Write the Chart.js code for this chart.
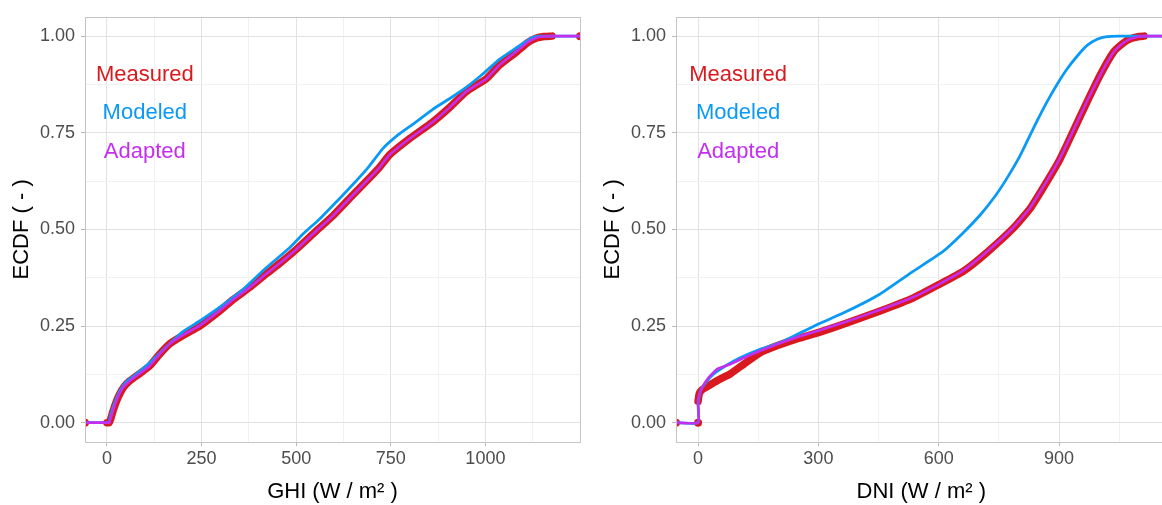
<!DOCTYPE html>
<html>
<head>
<meta charset="utf-8">
<script src="https://cdn.jsdelivr.net/npm/chart.js@4"></script>
<style>
html, body { margin: 0; padding: 0; background: #fff; overflow: hidden; width: 1162px; height: 505px; }
#ghi { position: absolute; left: 0; top: 0; }
#dni { position: absolute; left: 591px; top: 0; }
</style>
</head>
<body>
<canvas id="ghi" width="590" height="505"></canvas>
<canvas id="dni" width="580" height="505"></canvas>
<script>
// axis limits (ecdf pads at -Inf / Inf sit on these)
const ghiMin = -58, ghiMax = 1250
const dniMin = -55, dniMax = 1168

const ghiTicks = [0, 125, 250, 375, 500, 625, 750, 875, 1000, 1125]
const ghiLabels = [0, 250, 500, 750, 1000]
const dniTicks = [0, 150, 300, 450, 600, 750, 900, 1050]
const dniLabels = [0, 300, 600, 900]
const yTicks = [0, 0.125, 0.25, 0.375, 0.5, 0.625, 0.75, 0.875, 1]
const yLabels = [0, 0.25, 0.5, 0.75, 1]

const noteText = ['Measured', 'Modeled', 'Adapted']

// GHI, [x, ECDF]
const ghiMeasured = [[0,0],[6,0],[10,0.01],[16,0.03],[25,0.055],[34,0.075],[45,0.093],[60,0.108],[85,0.126],[113,0.147],[140,0.178],[166,0.204],[205,0.228],[245,0.25],[290,0.283],[333,0.318],[380,0.352],[421,0.385],[460,0.415],[500,0.448],[552,0.495],[597,0.535],[641,0.58],[685,0.624],[720,0.66],[747,0.693],[800,0.735],[861,0.778],[905,0.815],[949,0.856],[1003,0.89],[1037,0.925],[1082,0.959],[1110,0.982],[1135,0.995],[1155,0.999],[1176,1]]
const ghiModeled = [[0,0],[5,0],[10,0.02],[20,0.05],[34,0.082],[50,0.105],[70,0.12],[113,0.155],[150,0.19],[200,0.235],[245,0.263],[300,0.3],[360,0.345],[420,0.4],[482,0.452],[520,0.49],[560,0.525],[600,0.565],[641,0.607],[690,0.66],[729,0.709],[770,0.745],[817,0.778],[860,0.81],[905,0.838],[950,0.868],[993,0.902],[1037,0.94],[1082,0.97],[1110,0.988],[1125,0.997],[1145,1]]
const ghiAdapted = [[0,0],[6,0],[10,0.012],[16,0.032],[25,0.057],[34,0.077],[45,0.094],[60,0.108],[85,0.126],[113,0.147],[140,0.178],[166,0.204],[205,0.229],[245,0.251],[290,0.284],[333,0.318],[380,0.352],[421,0.385],[460,0.415],[500,0.448],[552,0.495],[597,0.535],[641,0.58],[685,0.624],[720,0.66],[747,0.693],[800,0.735],[861,0.778],[905,0.815],[949,0.856],[1003,0.89],[1037,0.925],[1082,0.96],[1110,0.983],[1135,0.996],[1155,0.999],[1176,1]]

// DNI, [x, ECDF]
const dniMeasured = [[0,0.055],[3,0.075],[10,0.085],[22,0.093],[50,0.11],[80,0.126],[115,0.152],[155,0.181],[200,0.2],[250,0.218],[300,0.233],[371,0.258],[454,0.289],[537,0.323],[600,0.357],[662,0.392],[720,0.44],[786,0.503],[828,0.554],[870,0.624],[903,0.683],[935,0.753],[970,0.83],[1003,0.9],[1036,0.959],[1060,0.982],[1078,0.993],[1100,0.999],[1112,1]]
const dniModeled = [[0,0],[0,0.05],[6,0.082],[20,0.105],[39,0.126],[70,0.148],[105,0.168],[150,0.188],[205,0.207],[250,0.23],[300,0.255],[371,0.288],[454,0.333],[537,0.392],[611,0.443],[660,0.49],[704,0.538],[740,0.585],[770,0.632],[800,0.685],[820,0.727],[845,0.78],[870,0.83],[895,0.875],[920,0.915],[945,0.948],[970,0.976],[995,0.992],[1020,0.999],[1050,1]]
const dniAdapted = [[0,0],[0,0.06],[10,0.09],[25,0.115],[47,0.138],[80,0.151],[115,0.168],[155,0.186],[200,0.204],[250,0.222],[300,0.238],[371,0.262],[454,0.292],[537,0.325],[600,0.358],[662,0.394],[720,0.442],[786,0.505],[828,0.556],[870,0.626],[903,0.685],[935,0.755],[970,0.832],[1003,0.9],[1036,0.958],[1060,0.982],[1078,0.993],[1100,0.999],[1112,1]]

const RED = '#d9191e'
const BLUE = '#0a9af5'
const PURPLE = '#c42ef0'
const FONT = "'Liberation Sans', Arial, sans-serif"

const pts = arr => arr.map(([x, y]) => ({x, y}))
const padded = (arr, lo, hi) => [[lo, 0], ...arr, [hi, 1]]

function panel(id, o) {
    const xMajor = v => o.xLabels.includes(v)
    const yMajor = v => yLabels.includes(v)
    new Chart(document.getElementById(id), {
        type: 'scatter',
        data: {
            datasets: [
                {data: pts(padded(o.adapted, o.min, o.max)), showLine: true, borderColor: PURPLE, borderWidth: 2.6, pointRadius: 0, tension: 0.15},
                {data: pts(padded(o.modeled, o.min, o.max)), showLine: true, borderColor: BLUE, borderWidth: 2.8, pointRadius: 0, tension: 0.15},
                {data: pts(o.ends), showLine: false, pointRadius: 4, backgroundColor: RED, borderWidth: 0},
                {data: pts(o.measured), showLine: true, borderColor: RED, borderWidth: 7.5, borderCapStyle: 'round', borderJoinStyle: 'round', pointRadius: 0, tension: 0.15},
            ],
        },
        options: {
            responsive: false,
            animation: false,
            layout: {padding: {top: 15, right: o.padRight, bottom: 0, left: 0}},
            plugins: {legend: {display: false}, tooltip: {enabled: false}},
            scales: {
                x: {
                    type: 'linear', min: o.min, max: o.max,
                    afterBuildTicks: s => { s.ticks = o.xTicks.map(v => ({value: v})) },
                    afterFit: s => { s.height = 63 },
                    ticks: {autoSkip: false, maxRotation: 0, padding: 2, color: '#4d4d4d', font: {family: FONT, size: 18},
                        callback: v => xMajor(v) ? String(v) : ''},
                    grid: {color: c => xMajor(c.tick.value) ? '#e2e2e2' : '#f1f1f1',
                        tickColor: c => xMajor(c.tick.value) ? '#b8b8b8' : 'rgba(0,0,0,0)', tickLength: 4},
                    border: {display: false},
                    title: {display: true, text: o.title, color: '#000', font: {family: FONT, size: 22}, padding: {top: 0, bottom: 0}},
                },
                y: {
                    type: 'linear', min: -0.05, max: 1.05,
                    afterBuildTicks: s => { s.ticks = yTicks.map(v => ({value: v})) },
                    afterFit: s => { s.width = 85 },
                    ticks: {autoSkip: false, padding: 6, color: '#4d4d4d', font: {family: FONT, size: 18},
                        callback: v => yMajor(v) ? v.toFixed(2) : ''},
                    grid: {color: c => yMajor(c.tick.value) ? '#e2e2e2' : '#f1f1f1',
                        tickColor: c => yMajor(c.tick.value) ? '#b8b8b8' : 'rgba(0,0,0,0)', tickLength: 4},
                    border: {display: false},
                    title: {display: true, text: 'ECDF ( - )', color: '#000', font: {family: FONT, size: 22}, padding: {top: 9, bottom: 0}},
                },
            },
        },
        plugins: [{
            id: 'notes',
            afterDatasetsDraw(chart) {
                const {ctx, scales: {x, y}} = chart
                ctx.save()
                ctx.font = '22px ' + FONT
                ctx.textAlign = 'center'
                ctx.textBaseline = 'middle'
                ;[RED, BLUE, PURPLE].forEach((col, i) => {
                    ctx.fillStyle = col
                    ctx.fillText(noteText[i], x.getPixelForValue(100), y.getPixelForValue(0.9 - i * 0.1))
                })
                ctx.restore()
            },
            afterDraw(chart) {
                const {ctx, chartArea: a} = chart
                ctx.save()
                ctx.strokeStyle = '#c4c4c4'
                ctx.lineWidth = 1
                ctx.strokeRect(Math.round(a.left) + 0.5, Math.round(a.top) + 0.5, Math.round(a.right - a.left), Math.round(a.bottom - a.top))
                ctx.restore()
            },
        }],
    })
}

panel('ghi', {
    min: ghiMin, max: ghiMax, padRight: 10, xTicks: ghiTicks, xLabels: ghiLabels,
    title: 'GHI (W / m² )',
    measured: ghiMeasured, modeled: ghiModeled, adapted: ghiAdapted,
    ends: [[ghiMin, 0], [ghiMax, 1]],
})
panel('dni', {
    min: dniMin, max: dniMax, padRight: 4.5, xTicks: dniTicks, xLabels: dniLabels,
    title: 'DNI (W / m² )',
    measured: dniMeasured, modeled: dniModeled, adapted: dniAdapted,
    ends: [[dniMin, 0], [0, 0], [dniMax, 1]],
})
</script>
</body>
</html>
